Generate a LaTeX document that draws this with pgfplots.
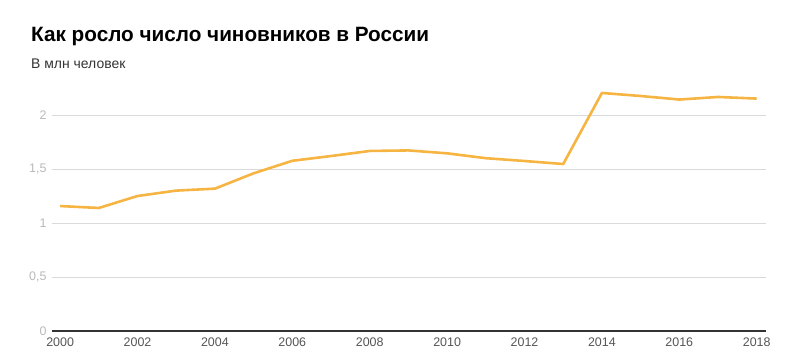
\documentclass[border=0pt]{standalone}
\usepackage{pgfplots}
\pgfplotsset{compat=1.18}
\usepackage{fontspec}
\setmainfont{Liberation Sans}
\definecolor{lineor}{RGB}{246,180,66}
\definecolor{ygray}{RGB}{185,185,185}
\definecolor{xgray}{RGB}{85,85,85}
\definecolor{gridc}{RGB}{218,218,218}
\definecolor{subc}{RGB}{51,51,51}
\begin{document}
\begin{tikzpicture}
\path[use as bounding box] (0bp,0bp) rectangle (799bp,361bp);
\node[anchor=base west, inner sep=0, font=\bfseries\fontsize{20.8}{22}\selectfont] at (31bp,319.5bp) {Как росло число чиновников в России};
\node[anchor=base west, inner sep=0, font=\fontsize{14}{16}\selectfont, text=subc] at (31bp,292bp) {В млн человек};
\begin{axis}[
  at={(52bp,30bp)}, anchor=south west,
  width=714bp, height=248.4bp, scale only axis,
  xmin=1999.79, xmax=2018.24, ymin=0, ymax=2.3,
  axis x line*=bottom, axis y line*=left,
  y axis line style={draw=none},
  x axis line style={draw=black!80, line width=1.2pt, -},
  major tick length=0pt,
  xtick={2000,2002,...,2018},
  ytick={0,0.5,1,1.5,2},
  ymajorgrids, grid style={gridc, line width=0.8pt},
  /pgf/number format/.cd, use comma, 1000 sep={}, assume math mode=true,
  /pgfplots/.cd,
  xticklabel style={text=xgray, font=\fontsize{12.5}{13}\selectfont, yshift=-3.5bp},
  yticklabel style={text=ygray, font=\fontsize{12.5}{13}\selectfont, xshift=-2bp},
  clip=false,
]
\addplot[lineor, line width=2.6pt, line join=round] coordinates {
(2000,1.157) (2001,1.139) (2002,1.250) (2003,1.300) (2004,1.318)
(2005,1.460) (2006,1.576) (2007,1.620) (2008,1.667) (2009,1.672)
(2010,1.645) (2011,1.600) (2012,1.574) (2013,1.546) (2014,2.204)
(2015,2.176) (2016,2.143) (2017,2.167) (2018,2.152)
};
\end{axis}
\end{tikzpicture}
\end{document}
